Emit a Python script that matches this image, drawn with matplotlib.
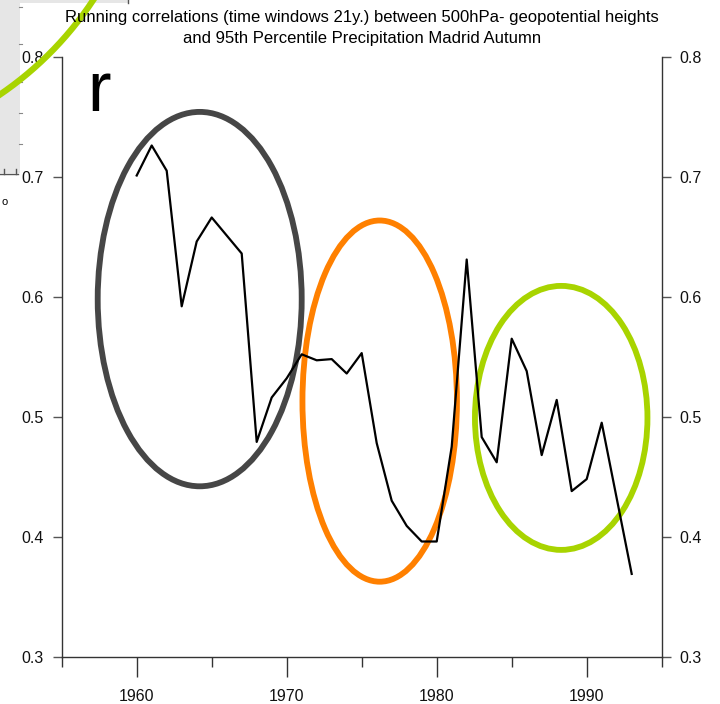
import matplotlib
matplotlib.use("Agg")
import matplotlib.pyplot as plt
from matplotlib.patches import Ellipse, Rectangle
from matplotlib.lines import Line2D
from matplotlib.transforms import IdentityTransform
import numpy as np

plt.rcParams['font.family'] = ['Liberation Sans', 'DejaVu Sans']

# running correlation values, one per year (window centre)
years = np.arange(1960, 1994)
r_values = [0.701, 0.726, 0.705, 0.592, 0.646, 0.666, 0.651, 0.636,
            0.479, 0.516, 0.532, 0.552, 0.547, 0.548, 0.536, 0.553,
            0.478, 0.430, 0.409, 0.396, 0.396, 0.475, 0.631, 0.483,
            0.462, 0.565, 0.538, 0.468, 0.514, 0.438, 0.448, 0.495,
            0.432, 0.369]

# highlighted periods: (centre year, centre r, width years, height r, colour)
highlights = [
    (1964.2, 0.598, 13.6, 0.312, '#464646'),
    (1976.2, 0.513, 10.3, 0.301, '#ff8000'),
    (1988.3, 0.499, 11.5, 0.220, '#a8d400'),
]

title1 = "Running correlations (time windows 21y.) between 500hPa- geopotential heights"
title2 = "and 95th Percentile Precipitation Madrid Autumn"

W, H = 720, 704
fig = plt.figure(figsize=(W / 100, H / 100), dpi=100)
ax = fig.add_axes([61.7 / W, 1 - 656.7 / H, 600 / W, 600 / H])
px = IdentityTransform()

# bits of another slide peeking in at the top left
fig.add_artist(Rectangle((0, H - 173), 20, 173, transform=px,
                         facecolor='#e6e6e6', edgecolor='none', zorder=0))
fig.add_artist(Rectangle((20, H - 3), 108, 3, transform=px,
                         facecolor='#e6e6e6', edgecolor='none', zorder=0))
fig.add_artist(Line2D([128, 128], [H, H - 3], transform=px, color='#555555', lw=1))
for yy in [7, 44, 82, 113, 144]:
    fig.add_artist(Line2D([19, 22], [H - yy, H - yy], transform=px,
                          color='#888888', lw=0.8))
fig.add_artist(Line2D([0, 18], [H - 174, H - 174], transform=px, color='#555555', lw=1))
for xx in [4, 16]:
    fig.add_artist(Line2D([xx, xx], [H - 174, H - 169], transform=px,
                          color='#555555', lw=1))
fig.text(5 / W, 1 - 202 / H, 'o', ha='center', va='center', fontsize=8)
# green arc of a big circle centred off the page
t = np.radians(np.linspace(-75, -15, 200))
fig.add_artist(Line2D(-193 + 343 * np.cos(t), H + 189 + 343 * np.sin(t),
                      transform=px, color='#a8d400', lw=4.5))

ax.plot(years, r_values, color='black', lw=1.6, zorder=3)

for cx, cy, w, h, col in highlights:
    ax.add_patch(Ellipse((cx, cy), w, h, fill=False, edgecolor=col, lw=4.2, zorder=2))

ax.text(1956.7, 0.755, 'r', fontsize=51, va='baseline', ha='left')

ax.set_xlim(1955, 1995)
ax.set_ylim(0.3, 0.8)
ax.set_xticks([1960, 1970, 1980, 1990])
ax.set_xticks([1955, 1965, 1975, 1985, 1995], minor=True)
ax.set_yticks([0.3, 0.4, 0.5, 0.6, 0.7, 0.8])
ax.set_yticklabels(['0.3', '0.4', '0.5', '0.6', '0.7', '0.8'])

ax.spines['top'].set_visible(False)
for s in ['left', 'right', 'bottom']:
    ax.spines[s].set_color('#333333')
    ax.spines[s].set_linewidth(1.0)

ax.tick_params(axis='x', which='major', length=14.4, width=1, color='#333333',
               pad=9, labelsize=11.5, labelcolor='#111111')
ax.tick_params(axis='x', which='minor', length=7.2, width=1, color='#333333')
ax.tick_params(axis='y', which='major', length=6.5, width=1, color='#555555',
               pad=6.5, labelsize=11.5, labelcolor='#111111',
               right=True, labelright=True)

fig.text(361.7 / W, 1 - 22 / H, title1, ha='center', va='baseline', fontsize=12)
fig.text(361.7 / W, 1 - 43 / H, title2, ha='center', va='baseline', fontsize=12)

fig.savefig('out.png', dpi=100)
